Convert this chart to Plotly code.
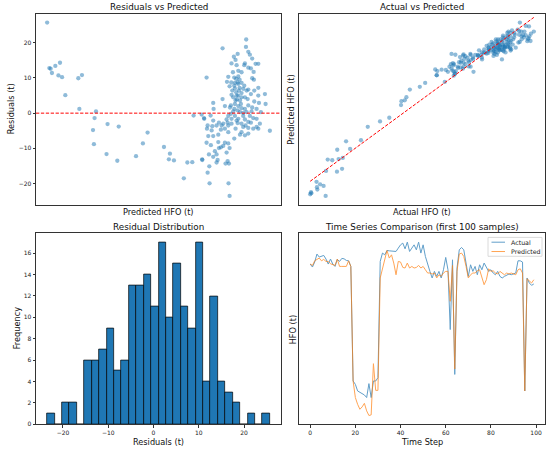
import numpy as np
import plotly.graph_objects as go
from plotly.subplots import make_subplots

# model output per sample: predicted HFO (t) and residual = actual - predicted (t)
predicted = [
    35.0, 36.7, 37.7, 38.7, 41.3, 43.7, 44.9, 46.5, 49.0, 59.0, 61.8, 59.8,
    72.6, 71.5, 70.3, 71.0, 81.5, 80.7, 90.1, 89.0, 103.4, 108.7, 112.3, 124.9,
    129.5, 128.7, 132.6, 140.2, 142.9, 146.7, 147.7, 154.3, 155.7, 157.7,
    188.2, 188.0, 170.0, 189.8, 181.6, 191.0, 178.7, 180.0, 192.8, 176.9,
    187.2, 186.7, 195.4, 197.5, 180.8, 189.8, 191.8, 193.9, 178.0, 182.1,
    184.6, 174.4, 182.1, 179.0, 180.5, 183.1, 192.8, 194.1, 173.4, 176.7,
    179.5, 184.6, 182.1, 175.4, 186.7, 179.5, 183.1, 189.8, 197.5, 188.5,
    194.4, 177.5, 180.5, 184.6, 191.8, 202.6, 176.9, 182.1, 187.2, 197.5,
    189.3, 181.0, 183.4, 194.4, 198.0, 203.1, 162.8, 170.0, 176.4, 171.8,
    179.5, 182.1, 184.6, 189.8, 192.8, 163.1, 175.7, 181.6, 187.2, 196.2,
    178.2, 183.4, 188.5, 192.3, 199.5, 153.9, 160.8, 174.4, 179.5, 185.9,
    191.0, 155.9, 173.1, 176.9, 182.1, 187.2, 193.6, 196.2, 162.8, 167.2,
    170.5, 173.9, 176.9, 181.6, 184.6, 189.8, 191.8, 198.7, 158.5, 162.1,
    165.4, 169.3, 174.4, 180.0, 185.9, 189.8, 196.2, 197.5, 206.4, 158.0,
    161.6, 168.7, 174.4, 184.6, 187.2, 159.0, 162.8, 166.7, 179.0, 183.4,
    189.8, 157.7, 161.0, 171.8, 174.4, 170.5, 168.7, 167.2, 175.4, 164.1,
    173.1, 159.5, 165.4, 154.4, 162.8, 166.2, 173.9, 174.9, 172.3, 159.8,
    165.4, 158.5, 160.0, 174.6, 175.4,
    179.0, 180.8, 182.6, 180.0, 184.1, 178.2, 181.6, 185.9, 184.6, 179.0,
    185.9, 176.4, 180.8, 187.7, 193.6, 171.8, 166.7,
]
residuals = [
    25.7, 12.8, 12.6, 11.4, 13.4, 10.7, 14.3, 10.2, 5.1, 9.9, 10.8, 1.2,
    0.5, -1.4, -4.8, -8.8, -3.1, -11.6, -3.8, -13.5, -12.2, -8.6, -5.5, -9.6,
    -11.5, -13.1, -13.4, -18.5, -14.0, -13.9, -0.7, -13.1, -1.4, 10.1,
    20.9, 18.8, 18.4, 17.4, 16.8, 16.6, 16.0, 15.1, 15.5, 14.1,
    14.1, 13.6, 14.0, 14.0, 13.6, 12.9, 12.7, 11.7, 11.6, 12.0,
    11.6, 10.3, 10.4, 10.1, 9.7, 9.5, 9.9, 9.5, 8.9, 8.7,
    8.6, 8.6, 8.3, 7.6, 7.8, 7.0, 7.2, 6.7, 7.2, 6.4,
    6.4, 6.4, 5.9, 5.7, 5.4, 5.4, 5.2, 5.0, 4.5, 5.0,
    4.0, 3.9, 3.6, 3.3, 2.9, 2.6, 2.9, 4.0, 2.2, 2.0,
    2.6, 2.0, 1.4, 2.2, 1.6, 1.2, 1.6, 0.8, 1.2, 1.2,
    0.5, 0.3, 0.3, 0.5, 0.3, -0.4, -0.7, -0.8, -0.8, -0.8,
    -0.8, -1.6, -1.8, -1.6, -1.6, -1.8, -1.4, -1.6, -2.1, -2.7,
    -3.0, -2.7, -3.0, -2.8, -3.0, -2.5, -2.7, -3.0, -3.5, -3.7,
    -3.5, -3.5, -3.5, -4.4, -3.9, -4.2, -3.9, -4.4, -5.0, -4.4,
    -4.9, -4.7, -5.4, -5.4, -6.3, -6.5, -6.5, -6.1, -7.2, -6.1,
    -5.8, -8.4, -9.1, -8.4, -8.6, -9.3, -9.7, -9.9, -9.9, -10.8,
    -11.2, -11.7, -11.7, -13.3, -12.4, -13.3, -13.6, -14.3, -14.3, -15.1,
    -14.0, -16.9, -19.9, -19.9, -23.5,
    7.8, 5.0, 6.4, 3.6, 2.6, 4.5, 8.7, 6.9, 4.5, 1.2,
    0.1, -0.2, -2.1, -3.5, -4.4, -4.4, -8.2,
]

# residual histogram, 30 equal bins between min and max residual
hist_counts = [1, 0, 2, 2, 0, 6, 6, 7, 9, 5, 6, 13, 13, 14, 11, 17, 10, 15,
               11, 9, 17, 4, 12, 4, 3, 2, 0, 1, 0, 1]

# first 100 samples of the test series (t)
ts_actual = [
    161.9, 159.5, 163.5, 169.9, 167.5, 168.0, 168.8, 165.9, 161.9, 165.9,
    161.9, 160.0, 165.6, 164.0, 166.4, 166.1, 164.8, 164.5, 160.0, 68.0,
    65.3, 60.0, 58.7, 58.1, 56.8, 54.7, 65.9, 54.7, 68.0, 68.0,
    70.7, 164.0, 170.7, 169.3, 172.8, 172.5, 172.5, 172.0, 172.0, 174.7,
    177.3, 178.7, 174.1, 179.5, 172.0, 174.7, 177.3, 173.3, 179.5, 170.7,
    177.3, 168.0, 161.3, 156.0, 150.7, 156.0, 152.0, 156.0, 150.7, 157.3,
    167.2, 157.3, 109.3, 165.3, 73.3, 158.7, 173.3, 175.2, 173.3, 164.0,
    152.0, 161.3, 156.0, 160.0, 153.3, 161.3, 157.3, 162.7, 158.7, 156.0,
    157.3, 154.7, 153.3, 156.0, 152.0, 150.7, 152.0, 153.3, 153.9, 153.3,
    153.9, 154.7, 164.5, 164.5, 163.5, 60.0, 150.7, 146.7, 144.8, 145.9,
]
ts_predicted = [
    161.9, 160.8, 164.5, 165.3, 166.7, 164.5, 165.6, 164.0, 164.0, 162.1,
    161.3, 160.8, 165.9, 160.0, 160.0, 160.0, 160.0, 164.5, 160.0, 68.0,
    54.7, 49.3, 45.3, 47.2, 50.1, 44.0, 40.3, 40.8, 81.9, 60.5,
    60.5, 150.7, 158.7, 165.3, 172.8, 166.7, 169.3, 162.7, 153.3, 164.0,
    163.5, 159.2, 158.7, 162.7, 158.7, 160.0, 158.7, 159.2, 160.8, 158.7,
    160.0, 157.3, 154.7, 154.7, 153.9, 154.7, 150.7, 153.3, 152.0, 154.7,
    156.0, 156.0, 132.0, 160.8, 77.6, 156.0, 169.9, 170.7, 168.0, 160.0,
    150.7, 153.3, 154.7, 154.7, 156.5, 157.3, 150.7, 145.3, 149.3, 158.1,
    156.0, 156.5, 154.7, 153.9, 156.0, 154.7, 153.3, 154.7, 153.9, 154.7,
    153.9, 153.3, 157.3, 158.1, 154.7, 60.0, 150.1, 148.0, 146.7, 149.3,
]

predicted = np.array(predicted)
residuals = np.array(residuals)
actual = predicted + residuals
steps = np.arange(len(ts_actual))

edges = np.linspace(residuals.min(), residuals.max(), len(hist_counts) + 1)
centers = (edges[:-1] + edges[1:]) / 2
bin_w = edges[1] - edges[0]


def pad(lo, hi, frac=0.05):
    span = hi - lo
    return [lo - frac * span, hi + frac * span]


BLUE = '#1f77b4'
ORANGE = '#ff7f0e'
FONT = 'DejaVu Sans'
W, H = 550, 454

fig = make_subplots(rows=2, cols=2)

# residuals vs predicted
fig.add_trace(go.Scatter(x=predicted, y=residuals, mode='markers',
                         marker=dict(color=BLUE, size=4.3, opacity=0.5, line=dict(width=0)),
                         showlegend=False), row=1, col=1)
fig.add_shape(type='line', xref='x domain', x0=0, x1=1, yref='y', y0=0, y1=0,
              line=dict(color='red', width=1, dash='3.3px,1.6px'))

# actual vs predicted
fig.add_trace(go.Scatter(x=actual, y=predicted, mode='markers',
                         marker=dict(color=BLUE, size=4.3, opacity=0.5, line=dict(width=0)),
                         showlegend=False), row=1, col=2)
fig.add_trace(go.Scatter(x=[actual.min(), actual.max()], y=[actual.min(), actual.max()],
                         mode='lines', line=dict(color='red', width=1, dash='3.3px,1.6px'),
                         showlegend=False), row=1, col=2)

# residual distribution
fig.add_trace(go.Bar(x=centers, y=hist_counts, width=bin_w,
                     marker=dict(color=BLUE, line=dict(color='black', width=0.7)),
                     showlegend=False), row=2, col=1)

# time series
fig.add_trace(go.Scatter(x=steps, y=ts_actual, mode='lines', name='Actual',
                         line=dict(color=BLUE, width=1), opacity=0.7,
                         showlegend=False), row=2, col=2)
fig.add_trace(go.Scatter(x=steps, y=ts_predicted, mode='lines', name='Predicted',
                         line=dict(color=ORANGE, width=1), opacity=0.7,
                         showlegend=False), row=2, col=2)

axis_style = dict(showline=True, mirror=True, linecolor='#333', linewidth=0.8,
                  showgrid=False, zeroline=False, ticks='outside', ticklen=2.5,
                  tickwidth=0.7, tickcolor='#333',
                  tickfont=dict(family=FONT, size=6, color='#222'))
no_ticks = dict(showticklabels=False, ticks='')

# axes boxes in pixels of the 550x454 page
left = [36 / W, 281 / W]
right = [299 / W, 545 / W]
top = [1 - 206 / H, 1 - 14 / H]
bottom = [1 - 427 / H, 1 - 235 / H]

ts_lo = min(min(ts_actual), min(ts_predicted))
ts_hi = max(max(ts_actual), max(ts_predicted))

fig.update_layout(
    width=W, height=H, autosize=False,
    margin=dict(l=0, r=0, t=0, b=0),
    paper_bgcolor='white', plot_bgcolor='white',
    font=dict(family=FONT, color='#222'),
    bargap=0,
    showlegend=False,
    xaxis=dict(axis_style, domain=left, range=pad(predicted.min(), predicted.max()), **no_ticks),
    yaxis=dict(axis_style, domain=top, range=pad(residuals.min(), residuals.max()),
               tickvals=[-20, -10, 0, 10, 20]),
    xaxis2=dict(axis_style, domain=right, range=pad(actual.min(), actual.max()), **no_ticks),
    yaxis2=dict(axis_style, domain=top, range=pad(predicted.min(), predicted.max()), **no_ticks),
    xaxis3=dict(axis_style, domain=left, range=pad(edges[0], edges[-1]),
                tickvals=[-20, -10, 0, 10, 20]),
    yaxis3=dict(axis_style, domain=bottom, range=[0, max(hist_counts) * 1.05],
                tickvals=list(range(0, 17, 2))),
    xaxis4=dict(axis_style, domain=right, range=pad(0, len(ts_actual) - 1),
                tickvals=list(range(0, 101, 20))),
    yaxis4=dict(axis_style, domain=bottom, range=pad(ts_lo, ts_hi), **no_ticks),
)

# small matplotlib-style legend box in the time-series panel
fig.add_shape(type='rect', xref='paper', yref='paper',
              x0=488 / W, x1=542 / W, y0=1 - 258 / H, y1=1 - 239 / H,
              line=dict(color='#d0d0d0', width=0.8), fillcolor='rgba(255,255,255,0.8)')
for name, color, row_y in [('Actual', BLUE, 243.8), ('Predicted', ORANGE, 253.2)]:
    fig.add_shape(type='line', xref='paper', yref='paper',
                  x0=491.5 / W, x1=505 / W, y0=1 - row_y / H, y1=1 - row_y / H,
                  line=dict(color=color, width=1), opacity=0.7)
    fig.add_annotation(text=name, xref='paper', yref='paper', x=509 / W, y=1 - row_y / H,
                       xanchor='left', yanchor='middle', showarrow=False,
                       font=dict(family=FONT, size=6.3, color='#222'))

titles = [
    ('x', 'y', 'Residuals vs Predicted', 7),
    ('x2', 'y2', 'Actual vs Predicted', 7),
    ('x3', 'y3', 'Residual Distribution', 6),
    ('x4', 'y4', 'Time Series Comparison (first 100 samples)', 6),
]
for xr, yr, text, shift in titles:
    fig.add_annotation(text=text, xref=xr + ' domain', yref=yr + ' domain', x=0.5, y=1,
                       yshift=shift, xanchor='center', yanchor='middle', showarrow=False,
                       font=dict(family=FONT, size=8.8, color='#111'))

xlabels = [
    ('x', 'y', 'Predicted HFO (t)', -7),
    ('x2', 'y2', 'Actual HFO (t)', -7),
    ('x3', 'y3', 'Residuals (t)', -18),
    ('x4', 'y4', 'Time Step', -18),
]
for xr, yr, text, shift in xlabels:
    fig.add_annotation(text=text, xref=xr + ' domain', yref=yr + ' domain', x=0.5, y=0,
                       yshift=shift, xanchor='center', yanchor='middle', showarrow=False,
                       font=dict(family=FONT, size=8.2, color='#111'))

ylabels = [
    ('x', 'y', 'Residuals (t)', -25),
    ('x2', 'y2', 'Predicted HFO (t)', -7.5),
    ('x3', 'y3', 'Frequency', -19.5),
    ('x4', 'y4', 'HFO (t)', -6.5),
]
for xr, yr, text, shift in ylabels:
    fig.add_annotation(text=text, xref=xr + ' domain', yref=yr + ' domain', x=0, y=0.5,
                       xshift=shift, textangle=-90, xanchor='center', yanchor='middle',
                       showarrow=False, font=dict(family=FONT, size=8.2, color='#111'))

# drop the default page margin so the 550x454 figure fills the window
fig.write_html("out.html", config={'displayModeBar': False},
               post_script="document.body.style.margin = '0px';")
